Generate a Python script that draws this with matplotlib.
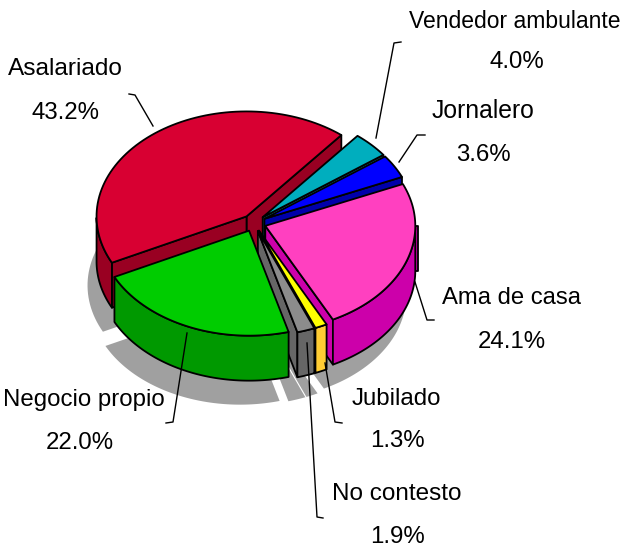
import matplotlib
matplotlib.use('Agg')
import matplotlib.pyplot as plt
import numpy as np

plt.rcParams['font.family'] = ['Liberation Sans', 'DejaVu Sans']

# datos, en orden antihorario desde el inicio de Asalariado
categorias = ['Asalariado', 'Negocio propio', 'No contesto', 'Jubilado',
              'Ama de casa', 'Jornalero', 'Vendedor ambulante']
valores = [43.2, 22.0, 1.9, 1.3, 24.1, 3.6, 4.0]
etiquetas = ['43.2%', '22.0%', '1.9%', '1.3%', '24.1%', '3.6%', '4.0%']

colores = ['#D80032', '#00CC00', '#8C8C8C', '#FFFF00', '#FF40C0', '#0000FF', '#00AEBE']
oscuros = ['#990022', '#009900', '#666666', '#FFCC33', '#CC00AA', '#0000AA', '#007C88']

# posicion de los textos (nombre, porcentaje) en pixeles
pos_nombre = [(65, 69), (84, 400), (397, 494), (396, 399), (512, 298), (483, 111), (515, 21)]
pos_valor = [(65, 113), (80, 443), (397, 537), (397, 441), (512, 342), (483, 155), (517, 62)]
tam_nombre = [17.6, 17.3, 17.5, 17.3, 17.2, 17.8, 16.5]
# lineas guia
guias = [
    [(129, 94), (135, 95), (153, 126)],
    [(166, 423), (173, 422), (187, 333)],
    [(323, 518), (317, 517), (307, 343)],
    [(342, 423), (335, 422), (325, 363)],
    [(434, 320), (427, 320), (415, 282)],
    [(425, 135), (417, 135), (399, 162)],
    [(401, 42), (394, 43), (376, 138)],
]

CX, CY = 254, 223
RX, RY = 150, 105
ALTO = 45
SEP = 0.08
INICIO = 50.8
SOMBRA = (-9, 24)
AMA = 4  # indice de Ama de casa

fig = plt.figure(figsize=(6.34, 5.55), dpi=100)
ax = fig.add_axes([0, 0, 1, 1])
ax.set_xlim(0, 634)
ax.set_ylim(555, 0)
ax.axis('off')

# angulos de cada porcion
v = np.array(valores)
bordes = INICIO + np.concatenate([[0], np.cumsum(v) / v.sum() * 360])


def punto(c, t):
    r = np.radians(t)
    return c[0] + RX * np.cos(r), c[1] - RY * np.sin(r)


def centro(i):
    med = np.radians((bordes[i] + bordes[i + 1]) / 2)
    return CX + SEP * RX * np.cos(med), CY - SEP * RY * np.sin(med)


def sector(c, t0, t1):
    ts = np.linspace(t0, t1, 80)
    return [c] + [punto(c, t) for t in ts]


# sombra: la cara inferior desplazada
for i in range(len(v)):
    c = centro(i)
    base = (c[0] + SOMBRA[0], c[1] + ALTO + SOMBRA[1])
    ax.fill(*zip(*sector(base, bordes[i], bordes[i + 1])), color='#A0A0A0', lw=0, zorder=1)

# se pinta de atras hacia adelante
orden = [0, 6, 5, 4, 3, 2, 1]
z = 2
for i in orden:
    c = centro(i)
    t0, t1 = bordes[i], bordes[i + 1]
    kw = dict(facecolor=oscuros[i], edgecolor='black', lw=1.3, joinstyle='round', zorder=z)

    # la tira que asoma a la derecha de Ama de casa
    if i == AMA:
        p = punto(c, 0)
        ax.fill([p[0] - 3, p[0] + 2.5, p[0] + 2.5, p[0] - 3],
                [p[1], p[1], p[1] + ALTO, p[1] + ALTO], **kw)

    # caras de corte visibles
    for t, visible in ((t0, np.cos(np.radians(t0)) > 0), (t1, np.cos(np.radians(t1)) < 0)):
        if visible:
            p = punto(c, t)
            ax.fill([c[0], p[0], p[0], c[0]], [c[1], p[1], p[1] + ALTO, c[1] + ALTO], **kw)

    # pared exterior: solo la parte que da al frente
    ts = np.linspace(t0, t1, 160)
    ts = ts[np.sin(np.radians(ts)) < 0]
    if len(ts):
        arr = [punto(c, t) for t in ts]
        x = [p[0] for p in arr]
        y = [p[1] for p in arr]
        ax.fill(x + x[::-1], y + [q + ALTO for q in y[::-1]], **kw)

    # cara superior
    ax.fill(*zip(*sector(c, t0, t1)), facecolor=colores[i], edgecolor='black',
            lw=1.3, joinstyle='round', zorder=z)
    z += 1

for g in guias:
    ax.plot(*zip(*g), color='black', lw=1.0, zorder=20)

for i in range(len(v)):
    ax.text(*pos_nombre[i], categorias[i], fontsize=tam_nombre[i], ha='center', va='center', zorder=21)
    ax.text(*pos_valor[i], etiquetas[i], fontsize=17.3, ha='center', va='center', zorder=21)

fig.savefig('out.png', dpi=100)
